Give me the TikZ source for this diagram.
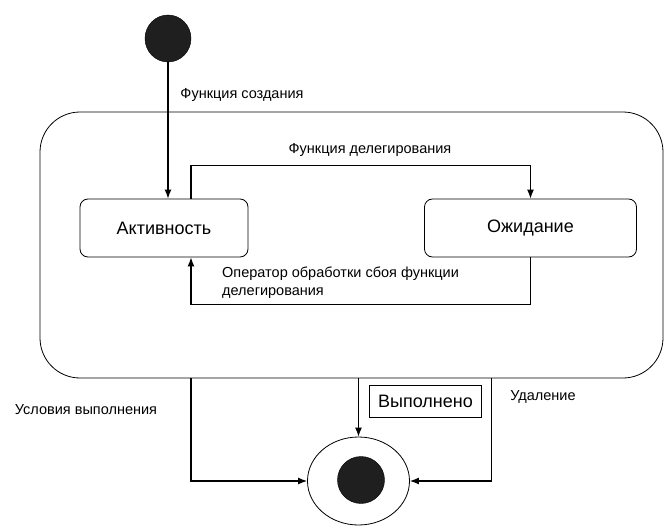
\documentclass[tikz,border=0pt]{standalone}
\usepackage{fontspec}
\setmainfont{Liberation Sans}
\usetikzlibrary{arrows.meta,positioning,shapes.geometric}
\tikzset{
  statebox/.style={draw, line width=0.8pt, rounded corners=8pt, inner sep=0pt, font=\fontsize{18}{20}\selectfont},
  conn/.style={line width=1.3pt, -{Latex[length=9pt,width=7pt]}},
  plain/.style={line width=1.3pt},
  lbl/.style={inner sep=0pt, font=\fontsize{14.5}{18}\selectfont},
}
\begin{document}
\begin{tikzpicture}[x=1pt,y=-1pt]
\useasboundingbox (0,0) rectangle (665,527);
% outer composite state
\node[draw, line width=0.8pt, rounded corners=40pt, minimum width=623pt, minimum height=266pt, inner sep=0pt] (big) at (351.5,245) {};
% initial state
\node[ellipse, fill=black!88, draw=black, minimum width=46pt, minimum height=47pt, inner sep=0pt] (init) at (168,38.5) {};
% states
\node[statebox, minimum width=168pt, minimum height=58pt] (act) at (164,228) {Активность};
\node[statebox, minimum width=212pt, minimum height=58pt] (wait) at (530.5,228) {Ожидание};
% final state
\node[ellipse, draw, line width=0.8pt, minimum width=102pt, minimum height=88pt, inner sep=0pt] (fin) at (358.5,481) {};
\node[circle, fill=black!88, draw=black, minimum size=47pt, inner sep=0pt] (finin) at (361,480) {};
% Выполнено box
\node[draw, line width=0.8pt, minimum width=112pt, minimum height=32pt, inner sep=0pt, font=\fontsize{18}{20}\selectfont] (done) at (425.5,401) {Выполнено};
% connectors
\draw[conn] (init.south) -- (init.south |- act.north);
\draw[conn] ([xshift=27pt]act.north) -- ++(0,-33) -| (wait.north);
\draw[conn] (wait.south) -- ++(0,47) -| ([xshift=27pt]act.south);
\draw[conn] ([xshift=-160.5pt]big.south) |- (fin.west);
\draw[conn] ([xshift=7pt]big.south) -- (fin.north);
\draw[conn] ([xshift=140pt]big.south) |- (fin.east);
% labels
\node[lbl] (l1) at (242,95) {Функция создания};
\node[lbl] (l2) at (370,150) {Функция делегирования};
\node[lbl, anchor=north west, align=left] (l3) at (222,267) {Оператор обработки сбоя функции\\делегирования};
\node[lbl] (l4) at (86,410) {Условия выполнения};
\node[lbl] (l5) at (543,397) {Удаление};
\end{tikzpicture}
\end{document}
